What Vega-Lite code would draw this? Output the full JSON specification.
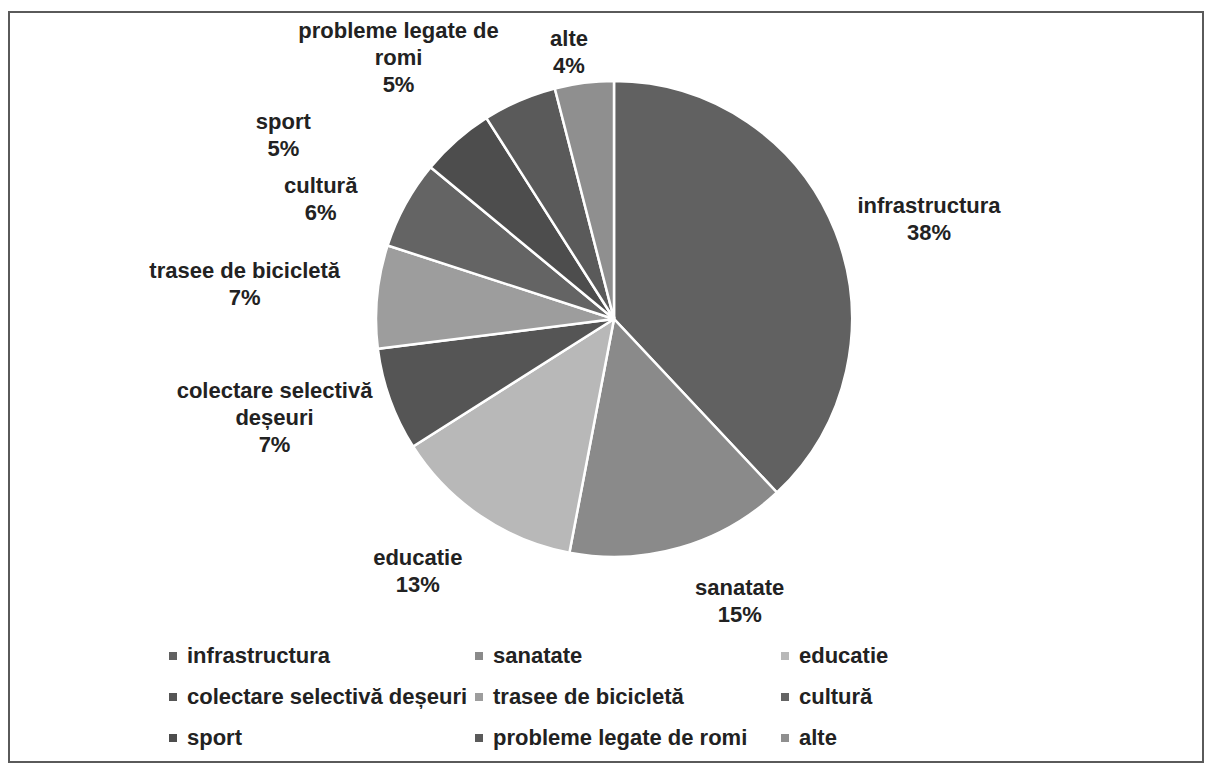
{
  "$schema": "https://vega.github.io/schema/vega-lite/v6.json",
  "width": 1194,
  "height": 750,
  "autosize": {"type": "none"},
  "padding": {"left": 9, "top": 12, "right": 3, "bottom": 3},
  "background": "white",
  "view": {"stroke": "#5a5a5a", "strokeWidth": 2},
  "config": {
    "view": {"stroke": "#5a5a5a", "strokeWidth": 2},
    "font": "Liberation Sans"
  },
  "data": {
    "values": [
      {"category": "infrastructura", "value": 38, "label": "infrastructura\n38%"},
      {"category": "sanatate", "value": 15, "label": "sanatate\n15%"},
      {"category": "educatie", "value": 13, "label": "educatie\n13%"},
      {"category": "colectare selectivă deșeuri", "value": 7, "label": "colectare selectivă\ndeșeuri\n7%"},
      {"category": "trasee de bicicletă", "value": 7, "label": "trasee de bicicletă\n7%"},
      {"category": "cultură", "value": 6, "label": "cultură\n6%"},
      {"category": "sport", "value": 5, "label": "sport\n5%"},
      {"category": "probleme legate de romi", "value": 5, "label": "probleme legate de\nromi\n5%"},
      {"category": "alte", "value": 4, "label": "alte\n4%"}
    ]
  },
  "layer": [
    {
      "mark": {
        "type": "arc",
        "outerRadius": 238,
        "stroke": "white",
        "strokeWidth": 2.5,
        "x": {"expr": "width/2 + 8"},
        "y": {"expr": "height/2 - 68"}
      },
      "encoding": {
        "theta": {"field": "value", "type": "quantitative", "stack": true, "scale": {"domain": [0, 100]}},
        "order": {"field": "value", "sort": "descending"},
        "color": {
          "field": "category",
          "type": "nominal",
          "scale": {
            "domain": ["infrastructura", "sanatate", "educatie", "colectare selectivă deșeuri", "trasee de bicicletă", "cultură", "sport", "probleme legate de romi", "alte"],
            "range": ["#616161", "#8a8a8a", "#b8b8b8", "#555555", "#9d9d9d", "#646464", "#4d4d4d", "#5a5a5a", "#8f8f8f"]
          },
          "legend": {
            "orient": "none",
            "legendX": 153,
            "legendY": 633,
            "columns": 3,
            "direction": "horizontal",
            "title": null,
            "symbolType": "square",
            "symbolSize": 64,
            "symbolStrokeWidth": 0,
            "labelFont": "Liberation Sans",
            "labelFontSize": 22,
            "labelFontWeight": "bold",
            "labelColor": "#222222",
            "labelLimit": 400,
            "labelOffset": 3,
            "columnPadding": -3,
            "rowPadding": 19,
            "gridAlign": "all",
            "padding": 0
          }
        }
      }
    },
    {
      "transform": [
        {"stack": "value", "groupby": [], "sort": [{"field": "value", "order": "descending"}], "as": ["s0", "s1"]}
      ],
      "mark": {
        "type": "text",
        "align": "center",
        "baseline": "middle",
        "lineBreak": "\n",
        "lineHeight": 27,
        "fontSize": 22,
        "fontWeight": "bold",
        "font": "Liberation Sans",
        "fill": "#222222",
        "x": {"expr": "width/2 + 8"},
        "y": {"expr": "height/2 - 68"}
      },
      "encoding": {
        "theta": {
          "field": "s0",
          "type": "quantitative",
          "stack": null,
          "scale": {
            "type": "linear",
            "zero": false,
            "nice": false,
            "domain": [0, 38, 53, 66, 73, 80, 86, 91, 96],
            "range": [1.227, 2.704, 3.829, 4.502, 4.841, 5.137, 5.25, 5.641, 6.124]
          }
        },
        "radius": {
          "field": "category",
          "type": "nominal",
          "scale": {
            "type": "point",
            "padding": 0,
            "domain": ["alte", "sanatate", "educatie", "cultură", "infrastructura", "colectare selectivă deșeuri", "probleme legate de romi", "trasee de bicicletă", "sport"],
            "range": [284, 385]
          }
        },
        "text": {"field": "label"}
      }
    }
  ],
  "resolve": {"scale": {"theta": "independent"}}
}
